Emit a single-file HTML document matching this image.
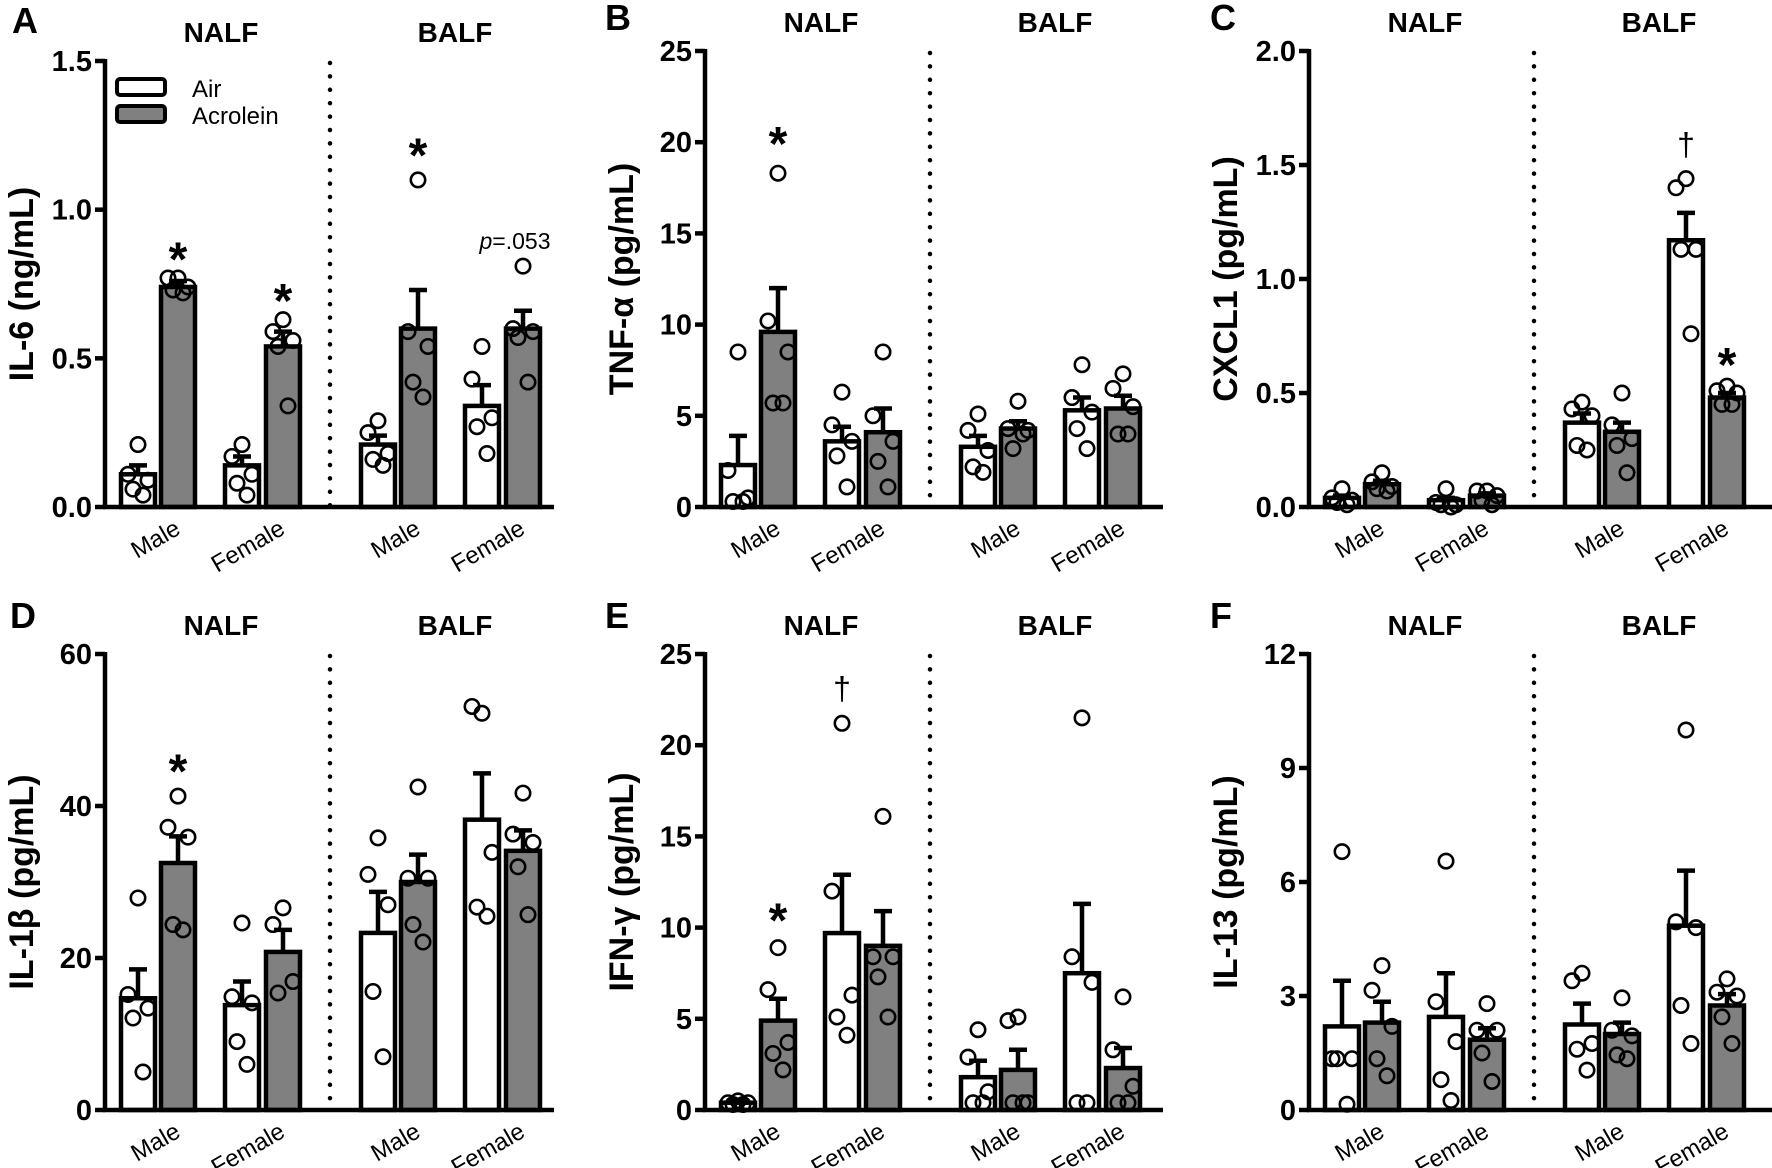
<!DOCTYPE html>
<html><head><meta charset="utf-8"><style>
html,body{margin:0;padding:0;background:#fff;}
svg{display:block;font-family:"Liberation Sans",sans-serif;}
</style></head><body>
<svg id="fig" width="1772" height="1168" viewBox="0 0 1772 1168" xmlns="http://www.w3.org/2000/svg"></svg>
<script>
// ---- Data (order: NALF Male Air, NALF Male Acrolein, NALF Female Air, NALF Female Acrolein, BALF Male Air, BALF Male Acr, BALF Female Air, BALF Female Acr)
const groupLabels = ["Male","Female","Male","Female"];
const seriesNames = ["Air","Acrolein"];

const aTicks = ["0.0","0.5","1.0","1.5"];
const aTickVals = [0,0.5,1.0,1.5];
const aMeans = [0.11,0.74,0.14,0.54,0.21,0.60,0.34,0.60];
const aSem = [0.03,0.02,0.03,0.05,0.03,0.13,0.07,0.06];
const aPoints = [[0.21,0.11,0.09,0.06,0.04],[0.77,0.77,0.74,0.73,0.72],[0.21,0.17,0.11,0.08,0.04],[0.63,0.59,0.56,0.54,0.34],
                 [0.29,0.25,0.18,0.16,0.14],[1.10,0.59,0.54,0.42,0.37],[0.54,0.43,0.30,0.27,0.18],[0.81,0.60,0.59,0.57,0.42]];

const bTicks = ["0","5","10","15","20","25"];
const bTickVals = [0,5,10,15,20,25];
const bMeans = [2.3,9.6,3.6,4.1,3.3,4.3,5.3,5.4];
const bSem = [1.6,2.4,0.8,1.3,0.6,0.4,0.7,0.7];
const bPoints = [[8.5,2.0,0.5,0.3,0.3],[18.3,10.2,8.5,5.7,5.7],[6.3,4.5,3.6,2.8,1.1],[8.5,5.0,3.6,2.5,1.1],
                 [5.1,4.2,3.1,2.2,1.9],[5.8,4.3,4.2,3.2,4.0],[7.8,6.0,5.2,4.3,3.2],[7.3,6.5,5.5,4.0,4.0]];

const cTicks = ["0.0","0.5","1.0","1.5","2.0"];
const cTickVals = [0,0.5,1.0,1.5,2.0];
const cMeans = [0.04,0.10,0.03,0.05,0.37,0.33,1.17,0.48];
const cSem = [0.01,0.015,0.01,0.01,0.04,0.04,0.12,0.02];
const cPoints = [[0.08,0.04,0.03,0.02,0.01],[0.15,0.11,0.09,0.08,0.07],[0.08,0.02,0.01,0.01,0.0],[0.07,0.07,0.05,0.03,0.01],
                 [0.46,0.43,0.40,0.27,0.25],[0.50,0.36,0.30,0.27,0.15],[1.44,1.40,1.13,1.13,0.76],[0.53,0.51,0.50,0.45,0.45]];

const dTicks = ["0","20","40","60"];
const dTickVals = [0,20,40,60];
const dMeans = [14.7,32.5,13.8,20.8,23.3,30.0,38.2,34.1];
const dSem = [3.8,3.5,3.1,2.9,5.4,3.6,6.1,2.7];
const dPoints = [[27.9,15.2,13.4,12.1,5],[41.3,37.2,35.9,24.4,23.7],[24.6,14.9,14.1,9,6],[26.6,24.4,16.9,15.4],
                 [35.8,31,27,15.6,7],[42.5,30.5,30.5,24.4,22.1],[52.2,53.1,33.9,26.7,25.5],[41.7,36.3,35.2,32,25.7]];

const eTicks = ["0","5","10","15","20","25"];
const eTickVals = [0,5,10,15,20,25];
const eMeans = [0.4,4.9,9.7,9.0,1.8,2.2,7.5,2.3];
const eSem = [0.1,1.2,3.2,1.9,0.9,1.1,3.8,1.1];
const ePoints = [[0.5,0.4,0.4,0.3,0.3],[8.9,6.6,3.7,3.1,2.2],[21.2,12.0,6.3,5.1,4.1],[16.1,8.4,8.4,7.3,5.1],
                 [4.4,2.9,1.0,0.4,0.4],[5.1,4.9,0.4,0.4,0.4],[21.5,8.4,7.0,0.4,0.4],[6.2,3.3,1.3,0.4,0.4]];

const fTicks = ["0","3","6","9","12"];
const fTickVals = [0,3,6,9,12];
const fMeans = [2.2,2.3,2.45,1.85,2.25,2.0,4.85,2.75];
const fSem = [1.2,0.55,1.15,0.3,0.55,0.3,1.45,0.3];
const fPoints = [[6.8,1.35,1.35,1.35,0.15],[3.8,3.15,2.2,1.35,0.9],[6.55,2.85,1.8,0.8,0.25],[2.8,2.1,2.1,1.5,0.75],
                 [3.6,3.4,1.75,1.6,1.05],[2.95,2.1,1.95,1.45,1.35],[10.0,4.95,4.8,2.75,1.75],[3.45,3.1,3.0,2.45,1.75]];

// annotations: [barIndex, value, symbol]
const aAnnot = [[1,0.87,"*"],[3,0.73,"*"],[5,1.22,"*"]];
const bAnnot = [[1,20.5,"*"]];
const cAnnot = [[6,1.59,"†"],[7,0.67,"*"]];
const dAnnot = [[1,46,"*"]];
const eAnnot = [[1,11.0,"*"],[2,23.1,"†"]];
const fAnnot = [];

const NS = "http://www.w3.org/2000/svg";
const svg = document.getElementById("fig");
function mk(tag, attrs, parent, txt){
  const e = document.createElementNS(NS, tag);
  for (const k in attrs) e.setAttribute(k, attrs[k]);
  if (txt !== undefined) e.textContent = txt;
  (parent || svg).appendChild(e);
  return e;
}
const barOff = [33,73,137,178,273,313,377,418];
const jit = [0,-10,10,-5,5];

function panel(o){
  const g = mk("g", {});
  
  
  const max = o.tickVals[o.tickVals.length-1];
  const y = v => o.y0 - (v/max)*(o.y0-o.yTop);
  const bx = i => o.ax + barOff[i];
  const L = mk("text",{x:o.lx,y:o.ly,"font-size":36,"font-weight":"bold"},g,o.letter);
  
  
  const n1 = mk("text",{x:o.ax+116,y:o.ty,"font-size":28,"font-weight":"bold","text-anchor":"middle"},g,"NALF");
  
  
  const n2 = mk("text",{x:o.ax+350,y:o.ty,"font-size":28,"font-weight":"bold","text-anchor":"middle"},g,"BALF");
  
  
  const yc = (o.y0+o.yTop)/2;
  const yt = mk("text",{x:0,y:0,"font-size":34,"font-weight":"bold","text-anchor":"middle",transform:`translate(${o.ax-72},${yc}) rotate(-90)`},g,o.ytitle);
  
  
  const dv = mk("line",{x1:o.ax+225,x2:o.ax+225,y1:o.yTop+2,y2:o.y0,stroke:"#000","stroke-width":4.5,"stroke-linecap":"round","stroke-dasharray":"0 13.4"},g);
  
  
  for (let i=0;i<8;i++){
    const acr = i%2===1;
    const top = y(o.means[i]);
    const r = mk("rect",{x:bx(i)-17,y:top,width:34,height:o.y0-top,fill:acr?"#808080":"#fff",stroke:"#000","stroke-width":4.5},g);
    
    
    const et = y(o.means[i]+o.sem[i]);
    const eb = mk("path",{d:`M${bx(i)},${top} V${et} M${bx(i)-9},${et} H${bx(i)+9}`,stroke:"#000","stroke-width":4.5,fill:"none"},g);
    
    
  }
  for (let i=0;i<8;i++){
    o.points[i].forEach((v,j)=>{
      const c = mk("circle",{cx:bx(i)+jit[j%5],cy:y(v),r:7.2,fill:"none",stroke:"#000","stroke-width":2.6},g);
      
      
    });
  }
  const ya = mk("line",{x1:o.ax,x2:o.ax,y1:o.yTop-2,y2:o.y0+2,stroke:"#000","stroke-width":4.5},g);
  
  
  const xa = mk("line",{x1:o.ax-2,x2:o.xend,y1:o.y0,y2:o.y0,stroke:"#000","stroke-width":4.5},g);
  
  
  o.tickVals.forEach((v,k)=>{
    mk("line",{x1:o.ax-10,x2:o.ax,y1:y(v),y2:y(v),stroke:"#000","stroke-width":4.5},g);
    const t = mk("text",{x:o.ax-13,y:y(v)+10,"font-size":29,"font-weight":"bold","text-anchor":"end"},g,o.ticks[k]);
    
    
  });
  for (let k=0;k<4;k++){
    const gc = (bx(2*k)+bx(2*k+1))/2;
    const t = mk("text",{x:0,y:0,"font-size":24,"text-anchor":"end",transform:`translate(${gc+24},${o.y0+26}) rotate(-30)`},g,groupLabels[k]);
    
    
  }
  o.annot.forEach(a=>{
    const star = a[2]==="*";
    const t = mk("text",{x:bx(a[0]),y:y(a[1])+(star?27:11),"font-size":star?48:32,"font-weight":star?"bold":"normal","text-anchor":"middle"},g,a[2]);
    
    
  });
  return {g,y,bx};
}

panel({letter:"A",lx:12,ly:33,ax:105,xend:554,y0:507,yTop:61,ty:42,ytitle:"IL-6 (ng/mL)",ticks:aTicks,tickVals:aTickVals,means:aMeans,sem:aSem,points:aPoints,annot:aAnnot});
panel({letter:"B",lx:605,ly:30,ax:705,xend:1163,y0:507,yTop:51,ty:32,ytitle:"TNF-α (pg/mL)",ticks:bTicks,tickVals:bTickVals,means:bMeans,sem:bSem,points:bPoints,annot:bAnnot});
panel({letter:"C",lx:1210,ly:30,ax:1309,xend:1772,y0:507,yTop:51,ty:32,ytitle:"CXCL1 (pg/mL)",ticks:cTicks,tickVals:cTickVals,means:cMeans,sem:cSem,points:cPoints,annot:cAnnot});
panel({letter:"D",lx:10,ly:628,ax:105,xend:554,y0:1110,yTop:654,ty:635,ytitle:"IL-1β (pg/mL)",ticks:dTicks,tickVals:dTickVals,means:dMeans,sem:dSem,points:dPoints,annot:dAnnot});
panel({letter:"E",lx:605,ly:628,ax:705,xend:1163,y0:1110,yTop:654,ty:635,ytitle:"IFN-γ (pg/mL)",ticks:eTicks,tickVals:eTickVals,means:eMeans,sem:eSem,points:ePoints,annot:eAnnot});
panel({letter:"F",lx:1210,ly:628,ax:1309,xend:1772,y0:1110,yTop:654,ty:635,ytitle:"IL-13 (pg/mL)",ticks:fTicks,tickVals:fTickVals,means:fMeans,sem:fSem,points:fPoints,annot:fAnnot});

const lg = mk("g",{});


const l1 = mk("rect",{x:117,y:79,width:48,height:16,rx:3,fill:"#fff",stroke:"#000","stroke-width":4},lg);


const l2 = mk("rect",{x:117,y:106,width:48,height:16,rx:3,fill:"#808080",stroke:"#000","stroke-width":4},lg);


const lt1 = mk("text",{x:192,y:97,"font-size":24},lg,seriesNames[0]);


const lt2 = mk("text",{x:192,y:124,"font-size":24},lg,seriesNames[1]);



const pv = mk("text",{x:515,y:249,"font-size":23,"text-anchor":"middle"});


mk("tspan",{"font-style":"italic"},pv,"p");
mk("tspan",{},pv,"=.053");
</script>
</body></html>
